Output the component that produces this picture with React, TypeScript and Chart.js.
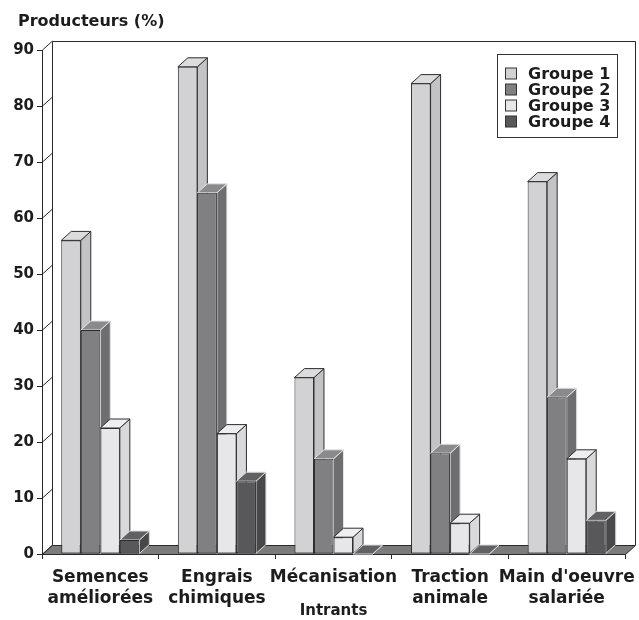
import React, { useEffect, useRef } from "react";
import { Chart, registerables } from "chart.js";

Chart.register(...registerables);

// Categories (x axis) and group values, in %
const intrants: string[][] = [
  ["Semences", "améliorées"],
  ["Engrais", "chimiques"],
  ["Mécanisation"],
  ["Traction", "animale"],
  ["Main d'oeuvre", "salariée"],
];
const groupNames = ["Groupe 1", "Groupe 2", "Groupe 3", "Groupe 4"];
const groupe1 = [56, 87, 31.5, 84, 66.5];
const groupe2 = [40, 64.5, 17, 18, 28];
const groupe3 = [22.5, 21.5, 3, 5.5, 17];
const groupe4 = [2.5, 13, 0, 0, 6];
const yMin = 0;
const yMax = 90;
const yStep = 10;

const yTitle = "Producteurs (%)";
const xTitle = "Intrants";

// Face shades per group: front, side, top, and edge colour of the extruded faces
const frontColors = ["#d2d2d4", "#808083", "#e7e7e9", "#58585b"];
const sideColors = ["#c3c3c6", "#6e6e71", "#d9d9dc", "#48484b"];
const topColors = ["#dcdcde", "#8a8a8d", "#eeeef0", "#616164"];
const edgeColors = ["#2e2e2e", "#e4e4e4", "#2e2e2e", "#dcdcdc"];

const FONT = "'DejaVu Sans', sans-serif";
const TEXT = "#1c1c1c";
const DX = 10;
const DY = -9;

function poly(ctx: CanvasRenderingContext2D, pts: number[][], fill: string, stroke: string) {
  ctx.beginPath();
  ctx.moveTo(pts[0][0], pts[0][1]);
  for (let i = 1; i < pts.length; i++) ctx.lineTo(pts[i][0], pts[i][1]);
  ctx.closePath();
  ctx.fillStyle = fill;
  ctx.fill();
  ctx.strokeStyle = stroke;
  ctx.stroke();
}

const depthPlugin = {
  id: "depth3d",
  beforeDatasetsDraw(chart: any) {
    const { ctx, chartArea } = chart;
    const { left, right } = chartArea;
    const ys = chart.scales.y;
    const yTop = ys.getPixelForValue(yMax);
    const y0 = ys.getPixelForValue(yMin);
    ctx.save();
    ctx.lineWidth = 1;
    ctx.strokeStyle = "#2a2a2a";
    // back wall
    ctx.beginPath();
    ctx.moveTo(left + DX + 0.5, y0 + DY);
    ctx.lineTo(left + DX + 0.5, yTop + DY + 0.5);
    ctx.lineTo(right + DX + 0.5, yTop + DY + 0.5);
    ctx.lineTo(right + DX + 0.5, y0 + DY);
    ctx.stroke();
    // depth lines from each y tick to the back wall
    for (let v = yMin; v <= yMax; v += yStep) {
      const py = ys.getPixelForValue(v);
      ctx.beginPath();
      ctx.moveTo(left + 0.5, py);
      ctx.lineTo(left + DX + 0.5, py + DY);
      ctx.stroke();
    }
    // floor
    poly(
      ctx,
      [
        [left + 0.5, y0 + 0.5],
        [right + 0.5, y0 + 0.5],
        [right + DX + 0.5, y0 + DY + 0.5],
        [left + DX + 0.5, y0 + DY + 0.5],
      ],
      "#7b7b7d",
      "#2a2a2a"
    );
    ctx.restore();
  },
  beforeDatasetDraw() {
    // bars are painted together below, left to right, so faces overlap correctly
    return false;
  },
  afterDatasetsDraw(chart: any) {
    const { ctx } = chart;
    ctx.save();
    ctx.lineWidth = 1;
    ctx.lineJoin = "miter";
    chart.data.datasets.forEach((_ds: any, i: number) => {
      const meta = chart.getDatasetMeta(i);
      meta.data.forEach((bar: any) => {
        const { x, y, base, width } = bar.getProps(["x", "y", "base", "width"], true);
        const l = x - width / 2;
        const r = x + width / 2;
        poly(ctx, [[r, y], [r + DX, y + DY], [r + DX, base + DY], [r, base]], sideColors[i], edgeColors[i]);
        poly(ctx, [[l, y], [l + DX, y + DY], [r + DX, y + DY], [r, y]], topColors[i], edgeColors[i]);
        bar.draw(ctx);
      });
    });
    ctx.restore();
  },
  afterDraw(chart: any) {
    const { ctx } = chart;
    ctx.save();
    // y axis title
    ctx.fillStyle = TEXT;
    ctx.font = `bold 16px ${FONT}`;
    ctx.textBaseline = "alphabetic";
    ctx.textAlign = "left";
    ctx.fillText(yTitle, 18, 26);
    // legend
    const bx = 497.5, by = 54.5, bw = 120, bh = 83;
    ctx.fillStyle = "#ffffff";
    ctx.fillRect(bx, by, bw, bh);
    ctx.strokeStyle = "#333";
    ctx.lineWidth = 1;
    ctx.strokeRect(bx, by, bw, bh);
    chart.data.datasets.forEach((ds: any, i: number) => {
      const cy = 73.5 + i * 16;
      ctx.fillStyle = ds.backgroundColor;
      ctx.fillRect(505.5, cy - 5.5, 11, 11);
      ctx.strokeStyle = "#333";
      ctx.strokeRect(505.5, cy - 5.5, 11, 11);
      ctx.fillStyle = TEXT;
      ctx.font = `bold 16px ${FONT}`;
      ctx.textBaseline = "middle";
      ctx.fillText(ds.label, 528, cy + 1);
    });
    ctx.restore();
  },
};

export default function App() {
  const ref = useRef<HTMLCanvasElement | null>(null);

  useEffect(() => {
    if (!ref.current) return;
    const series = [groupe1, groupe2, groupe3, groupe4];
    const chart = new Chart(ref.current, {
      type: "bar",
      data: {
        labels: intrants,
        datasets: series.map((values, i) => ({
          label: groupNames[i],
          data: values,
          backgroundColor: frontColors[i],
          borderColor: "#2b2b2b",
          borderWidth: 1,
          borderSkipped: false,
          categoryPercentage: 0.67,
          barPercentage: 1,
        })),
      },
      options: {
        responsive: false,
        devicePixelRatio: 1,
        animation: false,
        layout: { padding: { top: 50, right: 14, left: 0, bottom: 0 } },
        plugins: {
          legend: { display: false },
          tooltip: { enabled: false },
        },
        scales: {
          x: {
            border: { display: false },
            grid: { display: true, drawOnChartArea: false, drawTicks: true, tickLength: 5, color: "#2a2a2a", offset: true },
            ticks: {
              color: TEXT,
              font: { family: FONT, size: 17, weight: "bold", lineHeight: 1.18 },
              padding: 9,
              maxRotation: 0,
              minRotation: 0,
              autoSkip: false,
            },
            title: {
              display: true,
              text: xTitle,
              color: TEXT,
              font: { family: FONT, size: 15, weight: "bold" },
              padding: { top: 0, bottom: 0 },
            },
            afterFit: (scale: any) => {
              scale.height = 66;
              scale.paddingLeft = 0;
              scale.paddingRight = 0;
            },
          },
          y: {
            min: yMin,
            max: yMax,
            border: { display: true, color: "#2a2a2a" },
            grid: { display: true, drawOnChartArea: false, drawTicks: true, tickLength: 5, color: "#2a2a2a" },
            ticks: {
              stepSize: yStep,
              color: TEXT,
              font: { family: FONT, size: 15, weight: "bold" },
              padding: 3,
            },
            afterFit: (scale: any) => {
              scale.width = 42;
              scale.paddingTop = 0;
              scale.paddingBottom = 0;
            },
          },
        },
      },
      plugins: [depthPlugin],
    });
    return () => chart.destroy();
  }, []);

  return (
    <div style={{ position: "fixed", left: 0, top: 0, width: 639, height: 620, background: "#fff" }}>
      <canvas ref={ref} width={639} height={620} style={{ display: "block" }} />
    </div>
  );
}
